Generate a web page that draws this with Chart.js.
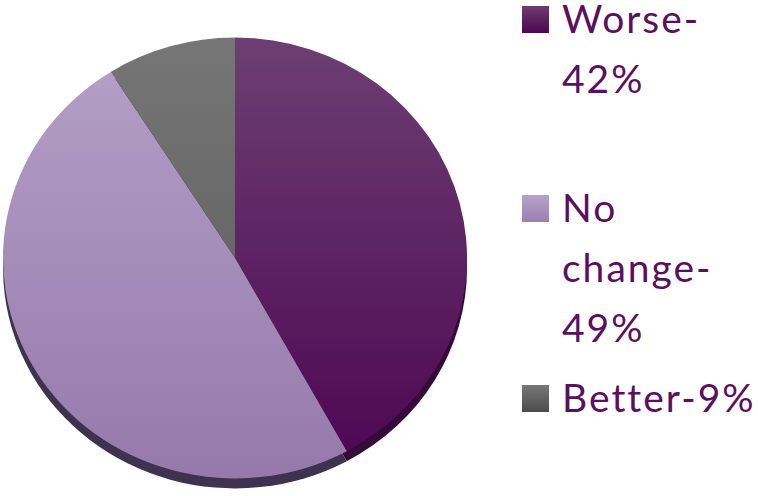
<!DOCTYPE html>
<html>
<head>
<meta charset="utf-8">
<script src="https://cdn.jsdelivr.net/npm/chart.js@4.4.1/dist/chart.umd.min.js"></script>
<style>
  html, body { margin: 0; padding: 0; background: #fff; }
  body { width: 758px; height: 496px; position: relative; overflow: hidden; font-family: Lato, "Open Sans", sans-serif; }
  #wrap { position: absolute; left: 0; top: 0; width: 470px; height: 496px; }
  #legend { position: absolute; left: 522px; top: 0; }
  .item { position: absolute; left: 0; width: 236px; }
  .box { position: absolute; left: 0; width: 27px; height: 27px; }
  .txt { position: absolute; left: 40px; width: 200px; color: #5b0f5f; font-size: 39px; letter-spacing: 2px; line-height: 60px; }
</style>
</head>
<body>
<div id="wrap"><canvas id="c"></canvas></div>
<div id="legend"></div>
<script>
// ---- data ----
const categories = ["Worse", "No change", "Better"];
const percents = [42, 49, 9];

// ---- styling ----
const faceTop = ["#6c3f72", "#b4a1c9", "#767676"];
const faceBottom = ["#4d0552", "#9679ab", "#575757"];
const edgeColors = ["#360a3a", "#3f3150", "#3c3c3c"];
const boxTop = ["#6b3d6e", "#b6a3cb", "#787878"];
const boxBottom = ["#4e0650", "#9a80ae", "#4c4c4c"];
const itemTops = [-12, 177, 367];
const SY = 0.95;    // vertical squash of the pie
const EDGE = 10;    // 3D edge thickness

function faceColor(c) {
  const i = c.dataIndex;
  const chart = c.chart;
  const a = chart.chartArea;
  if (!a) return faceBottom[i];
  const g = chart.ctx.createLinearGradient(0, a.top, 0, a.bottom);
  g.addColorStop(0, faceTop[i]);
  g.addColorStop(1, faceBottom[i]);
  return g;
}

const tiltPlugin = {
  id: 'tilt',
  beforeDatasetsDraw(chart) {
    const ctx = chart.ctx;
    const arcs = chart.getDatasetMeta(0).data;
    if (!arcs.length) return;
    const cx = arcs[0].x, cy = arcs[0].y;
    ctx.save();
    ctx.translate(cx, cy);
    ctx.scale(1, SY);
    ctx.translate(-cx, -cy);
    // 3D edge below the face
    ctx.save();
    ctx.translate(0, EDGE / SY);
    arcs.forEach((arc, i) => {
      ctx.beginPath();
      ctx.moveTo(arc.x, arc.y);
      ctx.arc(arc.x, arc.y, arc.outerRadius, arc.startAngle, arc.endAngle);
      ctx.closePath();
      ctx.fillStyle = edgeColors[i];
      ctx.fill();
    });
    ctx.restore();
  },
  afterDatasetsDraw(chart) {
    chart.ctx.restore();
  }
};

const chart = new Chart(document.getElementById('c'), {
  type: 'pie',
  data: {
    labels: categories,
    datasets: [{
      data: percents,
      backgroundColor: faceColor,
      borderWidth: 0
    }]
  },
  options: {
    responsive: true,
    maintainAspectRatio: false,
    animation: false,
    events: [],
    layout: { padding: { left: 3, right: 3, top: 26, bottom: 6 } },
    plugins: { legend: { display: false }, tooltip: { enabled: false } }
  },
  plugins: [tiltPlugin]
});

// ---- HTML legend built from the chart's data ----
const legend = document.getElementById('legend');
chart.data.labels.forEach((lab, i) => {
  const item = document.createElement('div');
  item.className = 'item';
  item.style.top = itemTops[i] + 'px';
  const box = document.createElement('div');
  box.className = 'box';
  box.style.top = '18px';
  box.style.background = 'linear-gradient(to bottom,' + boxTop[i] + ',' + boxBottom[i] + ')';
  const txt = document.createElement('div');
  txt.className = 'txt';
  txt.appendChild(document.createTextNode(lab + '-'));
  txt.appendChild(document.createElement('wbr'));
  txt.appendChild(document.createTextNode(chart.data.datasets[0].data[i] + '%'));
  item.appendChild(box);
  item.appendChild(txt);
  legend.appendChild(item);
});
</script>
</body>
</html>
